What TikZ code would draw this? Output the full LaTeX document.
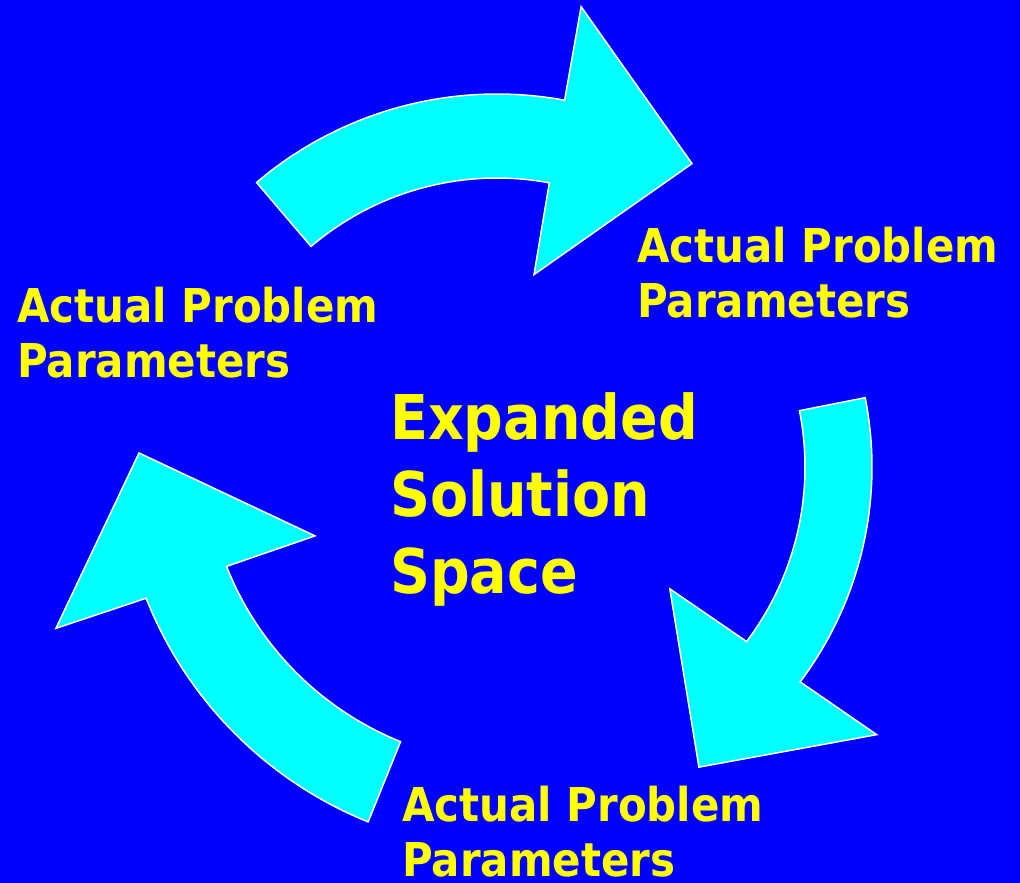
\documentclass[tikz,border=0pt]{standalone}
\usepackage{fontspec}
\usepackage{tikz}
\newfontfamily\labelfont[FakeStretch=0.9]{DejaVu Sans}
\definecolor{deepblue}{HTML}{0000FF}
\definecolor{cyanfill}{HTML}{00FFFF}
\definecolor{labelyellow}{HTML}{FFFF00}
\tikzset{
  bendarrow/.style={fill=cyanfill,draw=white,line width=1.5pt,line join=miter},
  param/.style={anchor=base west,align=left,inner sep=0pt,text=labelyellow,
    font=\labelfont\bfseries\fontsize{46.6}{55}\selectfont},
  core/.style={anchor=base west,align=left,inner sep=0pt,text=labelyellow,
    font=\labelfont\bfseries\fontsize{61.7}{77}\selectfont}
}

\begin{document}
\begin{tikzpicture}[x=1pt,y=1pt]
  \fill[deepblue] (0,0) rectangle (1020,-883);
  \useasboundingbox (0,0) rectangle (1020,-883);
  % top arrow
  \begin{scope}[shift={(497,-465)}]
    \draw[bendarrow] (130.4:371) arc[start angle=130.4,end angle=79.5,radius=371]
      -- (79.6:466) -- (57.1:359) -- (79:194) -- (79.5:287)
      arc[start angle=79.5,end angle=130.4,radius=287] -- cycle;
  \end{scope}
  % right arrow
  \begin{scope}[shift={(515,-467)}]
    \draw[bendarrow] (11.2:357) arc[start angle=11.2,end angle=-37,radius=357]
      -- (-36.5:450) -- (-58.5:352) -- (-38.2:197) -- (-37:290)
      arc[start angle=-37,end angle=11.2,radius=290] -- cycle;
  \end{scope}
  % left arrow
  \begin{scope}[shift={(518,-451)}]
    \draw[bendarrow] (-112:400) arc[start angle=-112,end angle=-158.4,radius=400]
      -- (-159:495) -- (-179.7:379) -- (-157.3:220) -- (-158.4:313.5)
      arc[start angle=-158.4,end angle=-112,radius=313.5] -- cycle;
  \end{scope}
  % labels (base = last line)
  \node[param] (pr) at (637,-317) {Actual Problem\\Parameters};
  \node[param] (pl) at (17,-377) {Actual Problem\\Parameters};
  \node[param] (pb) at (402,-876) {Actual Problem\\Parameters};
  \node[core] (space) at (390,-593) {Expanded\\Solution\\Space};
\end{tikzpicture}
\end{document}
